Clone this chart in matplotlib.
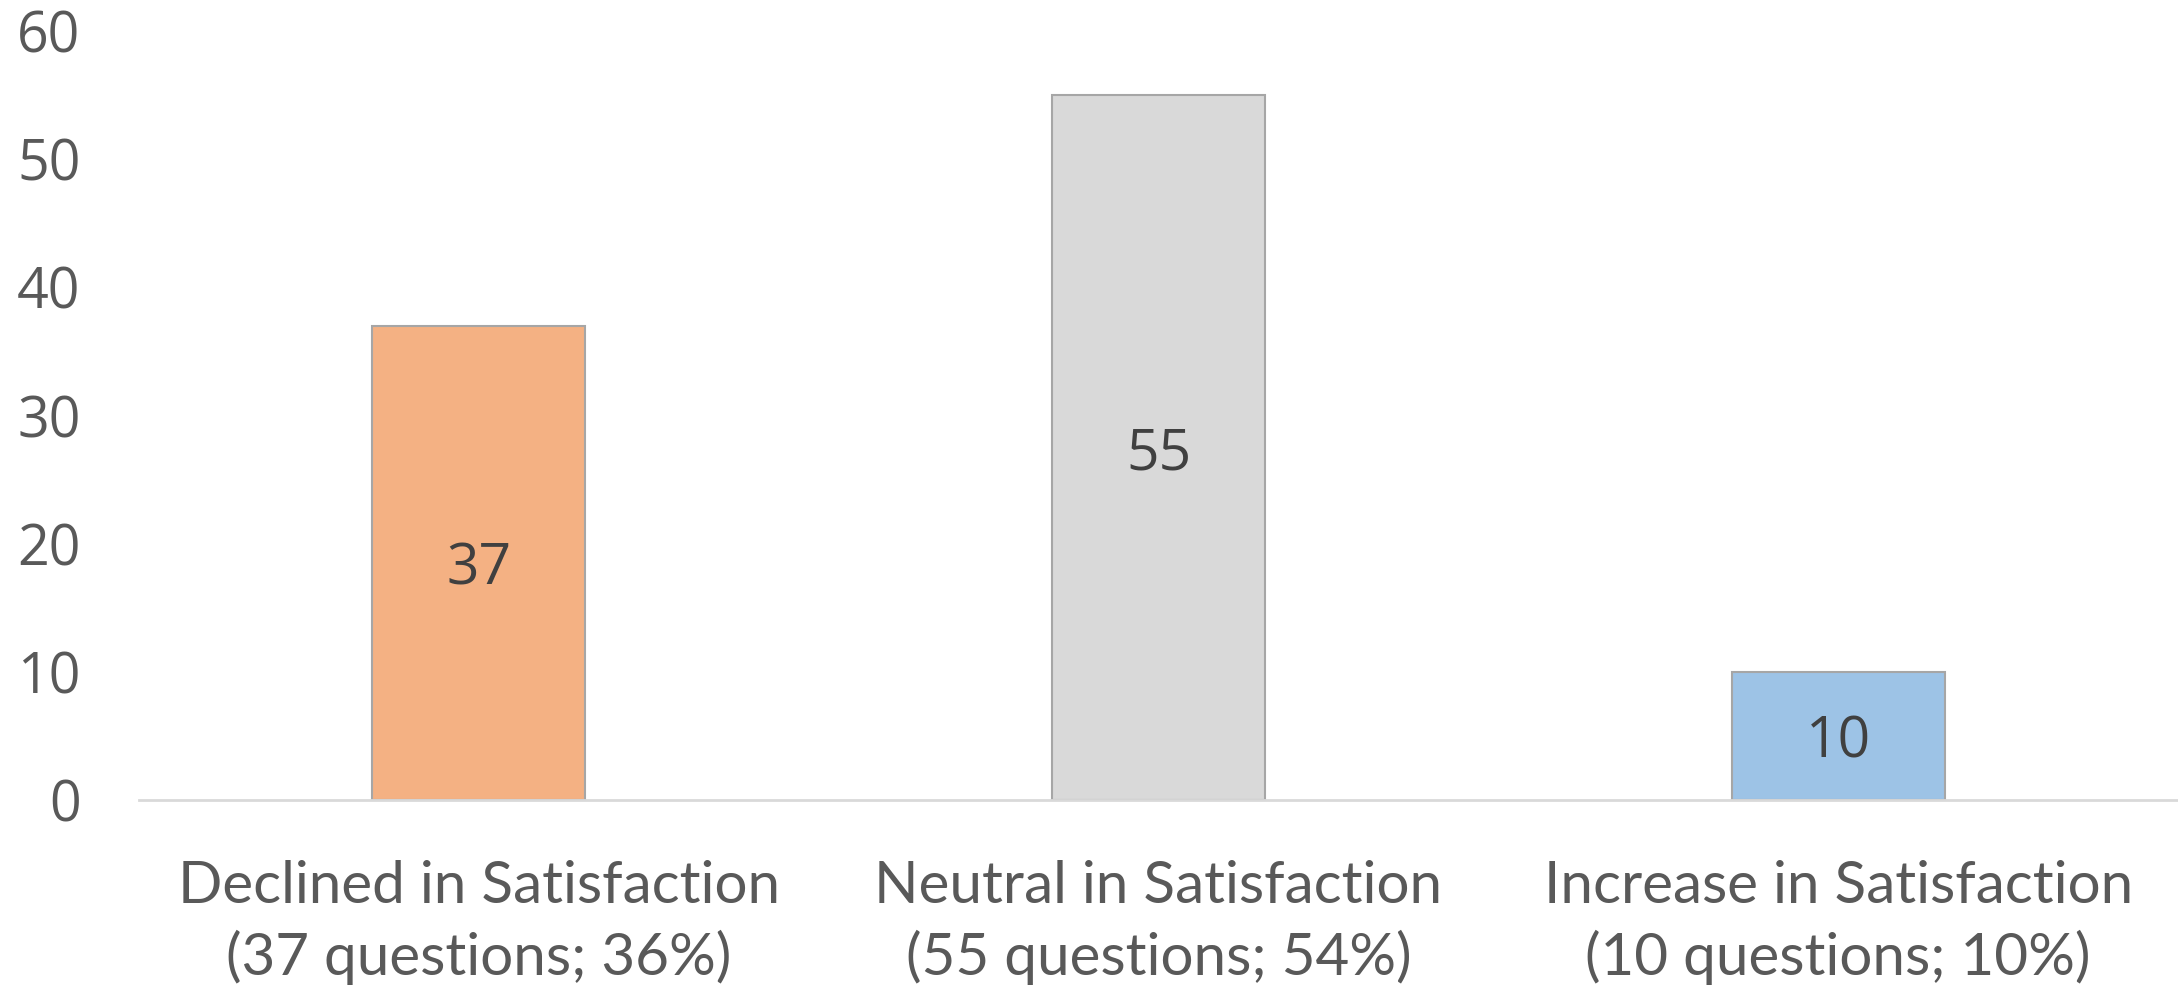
import matplotlib
matplotlib.use("Agg")
import matplotlib.pyplot as plt

categories = ["Declined in Satisfaction\n(37 questions; 36%)",
              "Neutral in Satisfaction\n(55 questions; 54%)",
              "Increase in Satisfaction\n(10 questions; 10%)"]
values = [37, 55, 10]
colors = ["#F4B183", "#D9D9D9", "#9DC3E6"]
yticks = [0, 10, 20, 30, 40, 50, 60]

plt.rcParams['font.family'] = ['Lato', 'DejaVu Sans']

fig = plt.figure(figsize=(21.78, 9.91), dpi=100)
ax = fig.add_axes([139/2178, 1 - 800/991, 1 - 139/2178, (800 - 31)/991])

x = list(range(len(values)))
bars = ax.bar(x, values, width=0.313, color=colors, edgecolor="#A6A6A6", linewidth=1.5, zorder=3)
for b, v in zip(bars, values):
    ax.text(b.get_x() + b.get_width()/2, v/2, str(v), ha='center', va='center_baseline',
            fontsize=41, color='#404040', family=['Open Sans', 'DejaVu Sans'], zorder=4)

ax.set_xlim(-0.5, 2.5)
ax.set_ylim(0, 60)
ax.set_yticks(yticks)
ax.set_yticklabels([str(t) for t in yticks], family=['Open Sans', 'DejaVu Sans'])
ax.set_xticks(x)
ax.set_xticklabels(categories, linespacing=1.37)
ax.tick_params(axis='y', length=0, labelsize=40, labelcolor='#595959', pad=42)
ax.tick_params(axis='x', length=0, labelsize=42, labelcolor='#595959', pad=43)
for s in ['top', 'right', 'left']:
    ax.spines[s].set_visible(False)
ax.spines['bottom'].set_color('#D9D9D9')
ax.spines['bottom'].set_linewidth(2)
ax.spines['bottom'].set_zorder(5)

fig.savefig("out.png", dpi=100, facecolor='white')
